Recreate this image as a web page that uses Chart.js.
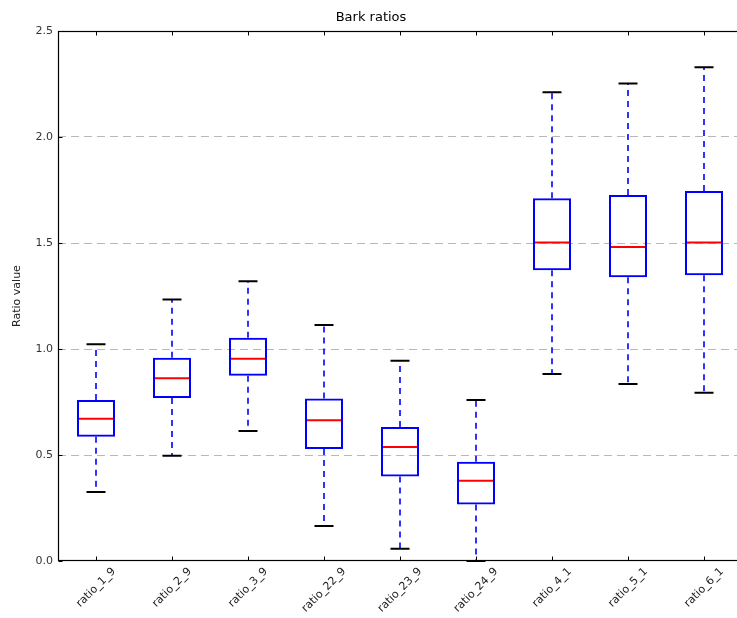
<!DOCTYPE html>
<html>
<head>
<meta charset="utf-8">
<script src="https://cdn.jsdelivr.net/npm/chart.js@4/dist/chart.umd.min.js"></script>
<style>
  html, body { margin: 0; padding: 0; background: #fff; overflow: hidden; }
  #wrap { width: 737px; height: 618px; overflow: hidden; }
</style>
</head>
<body>
<div id="wrap"><canvas id="c" width="742" height="618"></canvas></div>
<script>
// Box-plot summaries of the bark ratios
const categories  = ['ratio_1_9', 'ratio_2_9', 'ratio_3_9', 'ratio_22_9', 'ratio_23_9', 'ratio_24_9', 'ratio_4_1', 'ratio_5_1', 'ratio_6_1'];
const whiskerLow  = [0.325, 0.497, 0.613, 0.165, 0.058, 0.000, 0.882, 0.835, 0.794];
const q1          = [0.586, 0.769, 0.874, 0.528, 0.398, 0.267, 1.371, 1.338, 1.348];
const median      = [0.671, 0.862, 0.954, 0.664, 0.538, 0.379, 1.502, 1.481, 1.502];
const q3          = [0.759, 0.959, 1.053, 0.767, 0.632, 0.468, 1.711, 1.726, 1.745];
const whiskerHigh = [1.022, 1.234, 1.320, 1.113, 0.945, 0.759, 2.211, 2.252, 2.329];
const yTickValues = [0, 0.5, 1.0, 1.5, 2.0, 2.5];

const FONT = 'DejaVu Sans';

// Whiskers, caps and medians on top of the floating-bar boxes
const boxParts = {
  id: 'boxParts',
  afterDatasetsDraw(chart) {
    const { ctx } = chart;
    const xs = chart.scales.x, ys = chart.scales.y;
    const meta = chart.getDatasetMeta(0);
    categories.forEach((c, i) => {
      const x = xs.getPixelForValue(i);
      const boxW = meta.data[i].width;
      const capHalf = boxW / 4;
      const yLo = ys.getPixelForValue(whiskerLow[i]);
      const yQ1 = ys.getPixelForValue(q1[i]);
      const yQ3 = ys.getPixelForValue(q3[i]);
      const yHi = ys.getPixelForValue(whiskerHigh[i]);
      const yMed = ys.getPixelForValue(median[i]);

      ctx.save();
      // dashed whiskers
      ctx.strokeStyle = '#0000ff';
      ctx.lineWidth = 1.6;
      ctx.setLineDash([6, 5]);
      ctx.beginPath();
      ctx.moveTo(x, yQ3); ctx.lineTo(x, yHi);
      ctx.moveTo(x, yQ1); ctx.lineTo(x, yLo);
      ctx.stroke();
      ctx.setLineDash([]);
      // caps
      ctx.strokeStyle = '#000';
      ctx.lineWidth = 2;
      ctx.beginPath();
      ctx.moveTo(x - capHalf, yHi); ctx.lineTo(x + capHalf, yHi);
      ctx.moveTo(x - capHalf, yLo); ctx.lineTo(x + capHalf, yLo);
      ctx.stroke();
      // median
      ctx.strokeStyle = '#ff0000';
      ctx.lineWidth = 2;
      ctx.beginPath();
      ctx.moveTo(x - boxW / 2 + 2, yMed); ctx.lineTo(x + boxW / 2 - 2, yMed);
      ctx.stroke();
      ctx.restore();
    });
  }
};

// Axes frame, inward ticks and rotated category labels
const frame = {
  id: 'frame',
  afterDraw(chart) {
    const { ctx, chartArea: a } = chart;
    const xs = chart.scales.x, ys = chart.scales.y;
    const L = Math.round(a.left) + 0.5, R = Math.round(a.right) - 0.5;
    const T = Math.round(a.top) + 0.5, B = Math.round(a.bottom) - 0.5;
    ctx.save();
    ctx.strokeStyle = '#000';
    ctx.lineWidth = 1.2;
    ctx.strokeRect(L, T, R - L, B - T);
    ctx.lineWidth = 1;
    ctx.beginPath();
    const tl = 4;
    yTickValues.forEach(v => {
      const y = Math.round(ys.getPixelForValue(v)) + 0.5;
      ctx.moveTo(L, y); ctx.lineTo(L + tl, y);
      ctx.moveTo(R, y); ctx.lineTo(R - tl, y);
    });
    categories.forEach((c, i) => {
      const x = Math.round(xs.getPixelForValue(i)) + 0.5;
      ctx.moveTo(x, B); ctx.lineTo(x, B - tl);
      ctx.moveTo(x, T); ctx.lineTo(x, T + tl);
    });
    ctx.stroke();

    // category labels, rotated 45 degrees and centred under each tick
    ctx.font = '11px "' + FONT + '"';
    ctx.fillStyle = '#222';
    ctx.textAlign = 'center';
    ctx.textBaseline = 'middle';
    const s = Math.SQRT1_2;
    categories.forEach((c, i) => {
      const x = xs.getPixelForValue(i);
      const w = ctx.measureText(c).width;
      const h = 11;
      const bh = (w + h) * s;
      ctx.save();
      ctx.translate(x, a.bottom + 5 + bh / 2);
      ctx.rotate(-Math.PI / 4);
      ctx.fillText(c, 0, 0);
      ctx.restore();
    });
    ctx.restore();
  }
};

new Chart(document.getElementById('c'), {
  type: 'bar',
  data: {
    labels: categories,
    datasets: [{
      data: categories.map((c, i) => [q1[i], q3[i]]),
      backgroundColor: 'rgba(0,0,0,0)',
      borderColor: '#0000ff',
      borderWidth: 2,
      borderSkipped: false,
      barPercentage: 0.5,
      categoryPercentage: 1
    }]
  },
  options: {
    responsive: false,
    animation: false,
    devicePixelRatio: 1,
    layout: { padding: { left: 0, right: 0, top: 0, bottom: 0 } },
    plugins: {
      legend: { display: false },
      tooltip: { enabled: false },
      title: {
        display: true,
        text: 'Bark ratios',
        color: '#000',
        font: { family: FONT, size: 13, weight: 'normal', lineHeight: 1.2 },
        padding: { top: 10, bottom: 5.4 }
      }
    },
    scales: {
      x: {
        type: 'category',
        offset: true,
        grid: { display: false },
        border: { display: false },
        ticks: { display: false },
        afterFit(s) { s.height = 57; }
      },
      y: {
        min: 0,
        max: 2.5,
        afterBuildTicks(s) { s.ticks = yTickValues.map(v => ({ value: v })); },
        ticks: {
          callback: v => Number(v).toFixed(1),
          color: '#333',
          font: { family: FONT, size: 11 },
          padding: 5
        },
        grid: {
          drawTicks: false,
          lineWidth: 1,
          color: ctx => (ctx.tick && ctx.tick.value > 0 && ctx.tick.value < 2.5) ? '#b8b8b8' : 'rgba(0,0,0,0)'
        },
        border: { display: false, dash: [8, 5] },
        title: {
          display: true,
          text: 'Ratio value',
          color: '#222',
          font: { family: FONT, size: 11, lineHeight: 1.2 },
          padding: { top: 11, bottom: 0 }
        },
        afterFit(s) { s.width = 58; }
      }
    }
  },
  plugins: [boxParts, frame]
});
</script>
</body>
</html>
